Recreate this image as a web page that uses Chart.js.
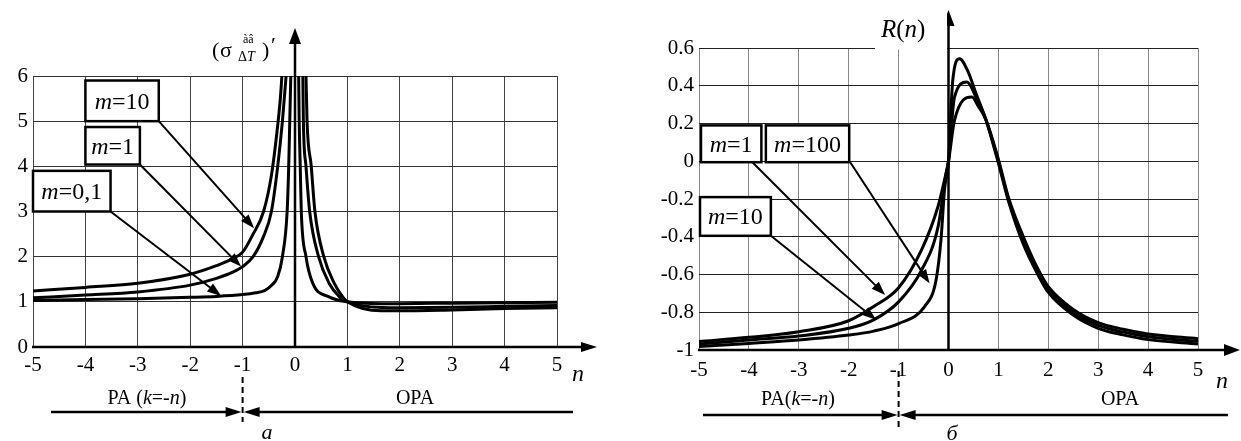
<!DOCTYPE html>
<html>
<head>
<meta charset="utf-8">
<title>sigma' and R(n)</title>
<script src="https://cdn.jsdelivr.net/npm/chart.js@4.4.1/dist/chart.umd.min.js"></script>
<style>
  html, body { margin: 0; padding: 0; background: #fff; }
  #page { position: relative; width: 1241px; height: 441px; overflow: hidden; }
  canvas { position: absolute; top: 0; }
</style>
</head>
<body>
<div id="page">
  <canvas id="chartA" width="620" height="441" style="left:0"></canvas>
  <canvas id="chartB" width="621" height="441" style="left:620px"></canvas>
</div>
<script>
const SERIF = '"Liberation Serif", serif';

/* ---------- (a) sigma' : n values and curves, null = gap at n=0 ---------- */
const nA_m01 = [-5, -4, -3, -2, -1.5, -1, -0.75, -0.58, -0.45, -0.33, -0.24, -0.15, -0.12, -0.1, -0.08, 0,
                0.07, 0.08, 0.10, 0.12, 0.21, 0.34, 0.65, 1, 1.65, 2, 3, 4, 5];
const sA_m01 = [1.03, 1.05, 1.07, 1.10, 1.12, 1.16, 1.20, 1.25, 1.36, 1.56, 2.0, 3.0, 4.0, 5.0, 6.0, null,
                6.0, 5.0, 4.0, 3.0, 2.0, 1.41, 1.11, 1.0, 0.96, 0.96, 0.97, 0.98, 0.99];

const nA_m1 = [-5, -4, -3, -2, -1.5, -1.2, -1, -0.8, -0.6, -0.45, -0.33, -0.24, -0.17, 0,
               0.15, 0.16, 0.21, 0.28, 0.45, 0.65, 0.85, 1, 1.65, 2, 3, 4, 5];
const sA_m1 = [1.09, 1.15, 1.22, 1.37, 1.52, 1.65, 1.78, 2.0, 2.45, 3.0, 4.0, 5.0, 6.0, null,
               6.0, 5.0, 4.0, 3.0, 2.0, 1.41, 1.11, 1.0, 0.875, 0.87, 0.88, 0.90, 0.92];

const nA_m10 = [-5, -4, -3, -2, -1.5, -1.2, -1, -0.8, -0.6, -0.45, -0.35, -0.28, -0.25, 0,
                0.21, 0.23, 0.31, 0.38, 0.55, 0.75, 0.91, 1, 1.65, 2, 3, 4, 5];
const sA_m10 = [1.24, 1.32, 1.41, 1.61, 1.8, 1.95, 2.1, 2.5, 3.0, 3.8, 4.7, 5.5, 6.0, null,
                6.0, 5.0, 4.0, 3.0, 2.0, 1.41, 1.11, 1.0, 0.8, 0.8, 0.82, 0.85, 0.87];

/* ---------- (б) R(n) ---------- */
const nB_m1 = [-5, -4, -3, -2, -1.5, -1, -0.54, -0.21, -0.08, 0, 0.12, 0.47, 0.6, 0.75, 1,
               1.2, 1.5, 1.8, 2, 2.5, 3, 3.5, 4, 5];
const rB_m1 = [-0.955, -0.933, -0.903, -0.845, -0.77, -0.67, -0.47, -0.24, -0.1, 0, 0.217, 0.34, 0.29, 0.22, 0.01,
               -0.19, -0.4, -0.575, -0.665, -0.785, -0.855, -0.89, -0.915, -0.94];

const nB_m10 = [-5, -4, -3, -2, -1.5, -1, -0.54, -0.21, -0.05, 0, 0.12, 0.37, 0.55, 0.75, 1,
                1.2, 1.5, 1.8, 2, 2.5, 3, 3.5, 4, 5];
const rB_m10 = [-0.968, -0.947, -0.926, -0.885, -0.84, -0.745, -0.577, -0.348, -0.07, 0, 0.34, 0.42, 0.34, 0.22, 0.0,
                -0.2, -0.42, -0.59, -0.68, -0.8, -0.87, -0.905, -0.93, -0.955];

const nB_m100 = [-5, -4, -3, -2, -1.5, -1, -0.48, -0.25, -0.15, -0.08, 0, 0.04, 0.085, 0.22, 0.4, 0.55, 0.75, 1,
                 1.2, 1.5, 1.8, 2, 2.5, 3, 3.5, 4, 5];
const rB_m100 = [-0.982, -0.965, -0.947, -0.921, -0.9, -0.86, -0.77, -0.63, -0.414, -0.15, 0, 0.22, 0.428, 0.543, 0.47, 0.36, 0.22, -0.01,
                 -0.21, -0.44, -0.605, -0.695, -0.815, -0.885, -0.92, -0.945, -0.968];

/* callouts: box corners and arrow ends in data units */
const calloutsA = [
  { m: '10',  box: [-4.0, 5.9, -2.6, 5.0],   from: [-2.6, 5.0],   to: [-0.78, 2.63] },
  { m: '1',   box: [-4.0, 4.87, -2.96, 4.04], from: [-2.96, 4.04], to: [-1.03, 1.78] },
  { m: '0,1', box: [-5.0, 3.9, -3.52, 3.0],  from: [-3.52, 3.0],  to: [-1.41, 1.13] }
];
const calloutsB = [
  { m: '1',   box: [-4.96, 0.19, -3.75, -0.005], from: [-3.93, -0.005], to: [-1.27, -0.709] },
  { m: '100', box: [-3.66, 0.19, -1.99, -0.005], from: [-1.97, -0.005], to: [-0.38, -0.647] },
  { m: '10',  box: [-4.98, -0.19, -3.56, -0.395], from: [-3.56, -0.395], to: [-1.45, -0.84] }
];

/* ---------- helpers ---------- */
const pts = (xs, ys) => xs.map((x, i) => ({ x, y: ys[i] }));
const curve = (xs, ys) => ({
  data: pts(xs, ys), borderColor: '#000', borderWidth: 3, pointRadius: 0,
  cubicInterpolationMode: 'monotone', spanGaps: false, fill: false
});

function head(ctx, tx, ty, ang, len, half) {
  const c = Math.cos(ang), s = Math.sin(ang);
  ctx.beginPath();
  ctx.moveTo(tx, ty);
  ctx.lineTo(tx - len * c + half * s, ty - len * s - half * c);
  ctx.lineTo(tx - len * c - half * s, ty - len * s + half * c);
  ctx.closePath();
  ctx.fill();
}
function arrow(ctx, x1, y1, x2, y2, w, len, half) {
  const a = Math.atan2(y2 - y1, x2 - x1);
  ctx.lineWidth = w;
  ctx.beginPath();
  ctx.moveTo(x1, y1);
  ctx.lineTo(x2 - len * 0.7 * Math.cos(a), y2 - len * 0.7 * Math.sin(a));
  ctx.stroke();
  head(ctx, x2, y2, a, len, half);
}
function rich(ctx, parts, x, y, align) {
  let w = 0;
  parts.forEach(p => { ctx.font = p[1]; w += ctx.measureText(p[0]).width; });
  let cx = align === 'center' ? x - w / 2 : (align === 'right' ? x - w : x);
  ctx.textAlign = 'left';
  ctx.textBaseline = 'alphabetic';
  parts.forEach(p => { ctx.font = p[1]; ctx.fillText(p[0], cx, y); cx += ctx.measureText(p[0]).width; });
}
const F = (sz, it) => (it ? 'italic ' : '') + sz + 'px ' + SERIF;

function drawCallouts(ctx, X, Y, list) {
  list.forEach(c => {
    const x1 = X(c.box[0]), y1 = Y(c.box[1]), x2 = X(c.box[2]), y2 = Y(c.box[3]);
    ctx.fillStyle = '#fff';
    ctx.fillRect(x1, y1, x2 - x1, y2 - y1);
    ctx.fillStyle = '#000';
    ctx.lineWidth = 2.5;
    ctx.strokeRect(x1, y1, x2 - x1, y2 - y1);
    rich(ctx, [['m', F(24, true)], ['=' + c.m, F(24)]], (x1 + x2) / 2, (y1 + y2) / 2 + 8, 'center');
    arrow(ctx, X(c.from[0]), Y(c.from[1]), X(c.to[0]), Y(c.to[1]), 2, 14, 5);
  });
}

function baseScales(yMin, yMax, yStep, yWidth, hColor, vColor, xPad, yFmt) {
  return {
    x: {
      type: 'linear', min: -5, max: 5,
      ticks: { stepSize: 1, autoSkip: false, maxRotation: 0, padding: xPad, color: '#000',
               font: { family: SERIF, size: 21 } },
      grid: { color: vColor, lineWidth: 1, drawTicks: false },
      border: { display: false },
      afterFit: s => { s.height = 30; }
    },
    y: {
      min: yMin, max: yMax,
      ticks: { stepSize: yStep, padding: 5, color: '#000', font: { family: SERIF, size: 21 },
               callback: yFmt },
      grid: { color: hColor, lineWidth: 1, drawTicks: false },
      border: { display: false },
      afterFit: s => { s.width = yWidth; }
    }
  };
}

/* ---------- chart (a) ---------- */
const decorA = {
  id: 'decorA',
  afterDatasetsDraw(chart) {
    const ctx = chart.ctx, xs = chart.scales.x, ys = chart.scales.y;
    const X = v => xs.getPixelForValue(v), Y = v => ys.getPixelForValue(v);
    ctx.save();
    ctx.strokeStyle = '#000';
    ctx.fillStyle = '#000';
    // axes with arrows
    const y0 = Y(0), x0 = X(0);
    ctx.lineWidth = 2.5;
    ctx.beginPath(); ctx.moveTo(X(-5) - 1, y0); ctx.lineTo(X(5) + 30, y0); ctx.stroke();
    head(ctx, X(5) + 40, y0, 0, 16, 5);
    ctx.beginPath(); ctx.moveTo(x0, y0); ctx.lineTo(x0, 40); ctx.stroke();
    head(ctx, x0, 28, -Math.PI / 2, 16, 6);

    drawCallouts(ctx, X, Y, calloutsA);

    // y-axis title (sigma^aa_dT)'
    ctx.textAlign = 'left'; ctx.textBaseline = 'alphabetic';
    ctx.font = F(22); ctx.fillText('(', 212, 57);
    ctx.fillText('σ', 220, 57);
    ctx.font = F(12); ctx.fillText('àâ', 243, 43);
    rich(ctx, [['Δ', F(14)], ['T', F(14, true)]], 238, 61, 'left');
    ctx.font = F(22); ctx.fillText(')', 262, 57);
    ctx.fillText('′', 271, 52);

    // n label
    ctx.font = F(24, true); ctx.textAlign = 'left'; ctx.fillText('n', 572, 381);

    // region markers
    const xm1 = X(-1);
    ctx.lineWidth = 2; ctx.setLineDash([6, 4]);
    ctx.beginPath(); ctx.moveTo(xm1, 377); ctx.lineTo(xm1, 422); ctx.stroke();
    ctx.setLineDash([]);
    arrow(ctx, 51, 412, xm1 - 1, 412, 2.5, 16, 5);
    arrow(ctx, 573, 412, xm1 + 1, 412, 2.5, 16, 5);
    rich(ctx, [['PA (', F(20)], ['k', F(20, true)], ['=-', F(20)], ['n', F(20, true)], [')', F(20)]], 147, 404, 'center');
    rich(ctx, [['OPA', F(20)]], 415, 404, 'center');
    rich(ctx, [['a', F(22, true)]], 267, 439, 'center');
    ctx.restore();
  }
};

new Chart(document.getElementById('chartA'), {
  type: 'line',
  data: { datasets: [curve(nA_m01, sA_m01), curve(nA_m1, sA_m1), curve(nA_m10, sA_m10)] },
  options: {
    responsive: false, animation: false, events: [],
    layout: { padding: { left: 0, top: 76, right: 63, bottom: 64 } },
    plugins: { legend: { display: false }, tooltip: { enabled: false } },
    scales: baseScales(0, 6, 1, 33, '#333', '#444', 6, v => String(v))
  },
  plugins: [decorA]
});

/* ---------- chart (б) ---------- */
const decorB = {
  id: 'decorB',
  afterDatasetsDraw(chart) {
    const ctx = chart.ctx, xs = chart.scales.x, ys = chart.scales.y;
    const X = v => xs.getPixelForValue(v), Y = v => ys.getPixelForValue(v);
    ctx.save();
    ctx.strokeStyle = '#000';
    ctx.fillStyle = '#000';
    const yb = Y(-1), x0 = X(0);
    ctx.lineWidth = 2.5;
    ctx.beginPath(); ctx.moveTo(X(-5) - 1, yb); ctx.lineTo(606, yb); ctx.stroke();
    head(ctx, 620, yb, 0, 16, 6);
    ctx.beginPath(); ctx.moveTo(x0, yb); ctx.lineTo(x0, 22); ctx.stroke();
    head(ctx, x0, 10, -Math.PI / 2, 16, 6);

    // R(n) title on white patch (cuts the top grid line)
    ctx.fillStyle = '#fff';
    ctx.fillRect(255, 0, 72, 49.5);
    ctx.fillStyle = '#000';
    rich(ctx, [['R', F(25, true)], ['(', F(25)], ['n', F(25, true)], [')', F(25)]], 261, 37, 'left');

    drawCallouts(ctx, X, Y, calloutsB);

    ctx.font = F(24, true); ctx.textAlign = 'left'; ctx.fillText('n', 596, 388);

    const xm1 = X(-1);
    ctx.lineWidth = 2; ctx.setLineDash([6, 4]);
    ctx.beginPath(); ctx.moveTo(xm1, 371); ctx.lineTo(xm1, 427); ctx.stroke();
    ctx.setLineDash([]);
    arrow(ctx, 83, 415, xm1 - 1, 415, 2.5, 16, 5);
    arrow(ctx, 608, 415, xm1 + 1, 415, 2.5, 16, 5);
    rich(ctx, [['PA(', F(20)], ['k', F(20, true)], ['=-', F(20)], ['n', F(20, true)], [')', F(20)]], 178, 405, 'center');
    rich(ctx, [['OPA', F(20)]], 500, 405, 'center');
    rich(ctx, [['б', F(22, true)]], 332, 440, 'center');
    ctx.restore();
  }
};

new Chart(document.getElementById('chartB'), {
  type: 'line',
  data: { datasets: [curve(nB_m1, rB_m1), curve(nB_m10, rB_m10), curve(nB_m100, rB_m100)] },
  options: {
    responsive: false, animation: false, events: [],
    layout: { padding: { left: 0, top: 48, right: 43, bottom: 61 } },
    plugins: { legend: { display: false }, tooltip: { enabled: false } },
    scales: baseScales(-1, 0.6, 0.2, 79, '#222', '#888', 8, v => String(Math.round(v * 10) / 10))
  },
  plugins: [decorB]
});
</script>
</body>
</html>
